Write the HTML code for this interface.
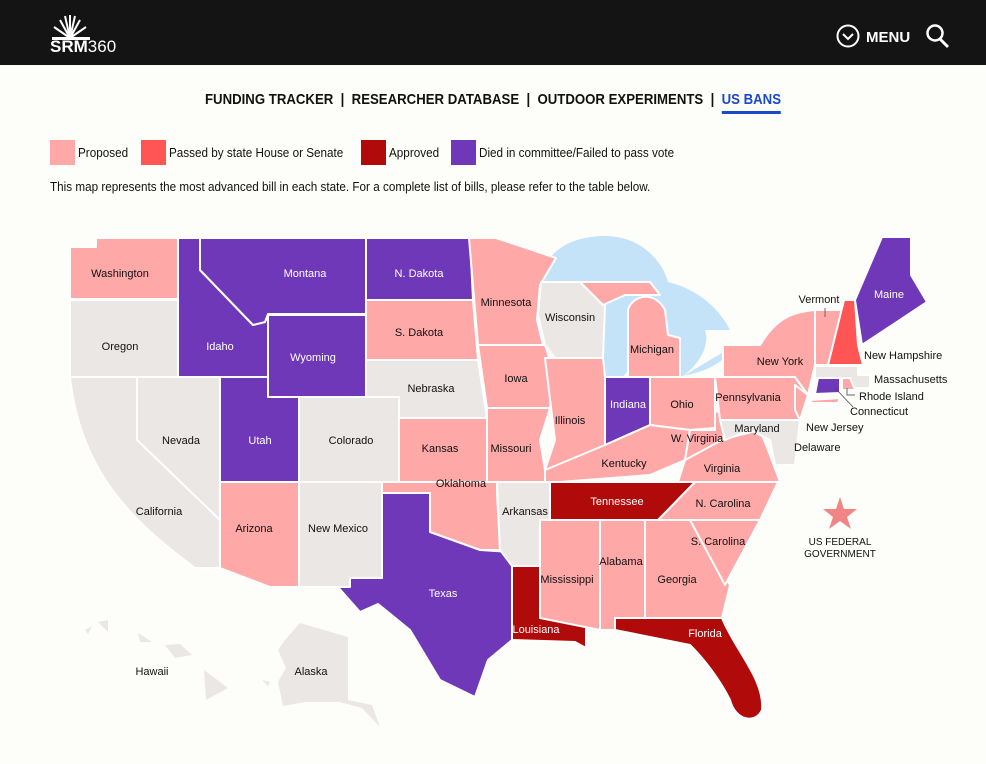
<!DOCTYPE html>
<html><head><meta charset="utf-8"><style>
body{margin:0;width:986px;height:764px;background:#fdfdfa;font-family:"Liberation Sans",sans-serif;overflow:hidden;position:relative}
.top{position:absolute;left:0;top:0;width:986px;height:65px;background:#141414}
.nav{position:absolute;top:91px;left:0;width:986px;text-align:center;font:bold 15px "Liberation Sans",sans-serif;transform:scaleX(0.88);color:#111}
.sw{position:absolute;width:25px;height:25px}
.lt{position:absolute;top:145px;font-size:13px;color:#111;transform-origin:left;transform:scaleX(0.9);white-space:nowrap}
svg text{font-family:"Liberation Sans",sans-serif;font-size:11px;fill:#111;text-anchor:middle}
</style></head><body>
<div class="top"></div>
<svg style="position:absolute;left:0;top:0" width="986" height="65">
<g stroke="#fff" stroke-width="2">
<line x1="70" y1="38" x2="60" y2="20"/><line x1="70" y1="38" x2="65" y2="16"/><line x1="70" y1="38" x2="70" y2="15"/><line x1="70" y1="38" x2="75" y2="16"/><line x1="70" y1="38" x2="80" y2="20"/><line x1="70" y1="38" x2="86" y2="27"/><line x1="70" y1="38" x2="54" y2="27"/></g>
<rect x="52" y="37" width="38" height="3" fill="#fff"/>
<text x="50" y="52" style="font:bold 17px 'Liberation Sans';fill:#fff;text-anchor:start">SRM<tspan font-weight="normal">360</tspan></text>
<circle cx="848" cy="36" r="10.5" fill="none" stroke="#fff" stroke-width="2"/><path d="M843 34l5 5 5-5" fill="none" stroke="#fff" stroke-width="2"/>
<text x="866" y="42" style="font:bold 15px 'Liberation Sans';fill:#fff;text-anchor:start">MENU</text>
<circle cx="935" cy="33" r="7.5" fill="none" stroke="#fff" stroke-width="2.5"/><line x1="940" y1="39" x2="948" y2="47" stroke="#fff" stroke-width="3"/>
</svg>
<div class="nav">FUNDING TRACKER &nbsp;|&nbsp; RESEARCHER DATABASE &nbsp;|&nbsp; OUTDOOR EXPERIMENTS &nbsp;|&nbsp; <span style="color:#1a49c9;border-bottom:3px solid #1a49c9;padding-bottom:3px">US BANS</span></div>
<div class="sw" style="left:50px;top:140px;background:#ffa8a8"></div><div class="lt" style="left:78px">Proposed</div>
<div class="sw" style="left:141px;top:140px;background:#ff5555"></div><div class="lt" style="left:169px">Passed by state House or Senate</div>
<div class="sw" style="left:361px;top:140px;background:#b00a0a"></div><div class="lt" style="left:389px">Approved</div>
<div class="sw" style="left:451px;top:140px;background:#6f38b8"></div><div class="lt" style="left:479px">Died in committee/Failed to pass vote</div>
<div class="lt" style="left:50px;top:179px">This map represents the most advanced bill in each state. For a complete list of bills, please refer to the table below.</div>
<svg style="position:absolute;left:0;top:0" width="986" height="764">
<g stroke="#fff" stroke-width="2" stroke-linejoin="round">
<path d="M541 282 C545 245 580 236 605 236 C640 236 662 260 668 282 C700 290 720 310 730 330 L705 330 C710 345 700 365 680 378 L735 345 C720 370 690 380 628 380 L628 370 C620 385 605 385 603 370 L603 300 C603 290 610 283 618 283 L541 282 Z" fill="#c5e3f8" stroke="none"/>
<polygon points="70,247 96,247 96,238 178,238 178,299 70,299" fill="#ffa8a8"/>
<polygon points="70,300 178,300 178,377 70,377" fill="#ebe7e5"/>
<polygon points="178,238 200,238 200,270 253,325 265,322 268,315 268,377 178,377" fill="#6f38b8"/>
<polygon points="200,238 366,238 366,314 268,314 265,322 253,325 200,270" fill="#6f38b8"/>
<polygon points="268,315 366,315 366,397 268,397" fill="#6f38b8"/>
<polygon points="366,238 470,238 473,300 366,300" fill="#6f38b8"/>
<polygon points="366,300 473,300 478,360 366,360" fill="#ffa8a8"/>
<polygon points="366,360 478,360 487,418 399,418 399,397 366,397" fill="#ebe7e5"/>
<polygon points="399,418 487,418 487,482 399,482" fill="#ffa8a8"/>
<polygon points="382,482 497,482 497,493 500,550 480,550 430,532 430,493 382,493" fill="#ffa8a8"/>
<polygon points="382,493 430,493 430,532 480,550 512,552 512,640 488,660 475,697 440,680 410,630 378,604 360,612 330,578 382,578" fill="#6f38b8"/>
<polygon points="299,482 382,482 382,578 350,578 350,587 299,587" fill="#ebe7e5"/>
<polygon points="299,397 399,397 399,482 299,482" fill="#ebe7e5"/>
<polygon points="220,377 268,377 268,397 299,397 299,482 220,482" fill="#6f38b8"/>
<polygon points="220,482 299,482 299,587 270,587 220,568" fill="#ffa8a8"/>
<polygon points="137,377 220,377 220,520 137,440" fill="#ebe7e5"/>
<path d="M70,377 L137,377 L137,440 L220,520 L220,568 L195,568 C130,520 80,470 70,377 Z" fill="#ebe7e5"/>
<polygon points="469,238 496,238 556,258 540,285 537,320 543,345 478,345" fill="#ffa8a8"/>
<polygon points="478,345 545,345 555,375 550,408 487,408" fill="#ffa8a8"/>
<polygon points="487,408 550,408 540,440 545,470 545,482 487,482" fill="#ffa8a8"/>
<polygon points="497,482 560,482 555,520 540,560 540,566 512,566 500,550" fill="#ebe7e5"/>
<polygon points="512,566 540,566 540,618 586,618 586,648 575,642 512,640" fill="#b00a0a"/>
<polygon points="541,282 580,282 605,305 603,358 555,358 545,345 538,315" fill="#ebe7e5"/>
<polygon points="580,282 650,282 660,295 625,295 603,305" fill="#ffa8a8"/>
<polygon points="545,358 603,358 605,377 605,445 585,460 545,470 555,440" fill="#ffa8a8"/>
<path d="M628,377 L628,310 C632,295 655,290 665,310 L668,335 L680,338 L680,377 Z" fill="#ffa8a8"/>
<polygon points="605,377 650,377 650,425 605,445" fill="#6f38b8"/>
<polygon points="650,377 715,377 715,428 690,430 650,425" fill="#ffa8a8"/>
<polygon points="545,470 605,445 650,425 690,430 685,460 650,475 560,482 545,482" fill="#ffa8a8"/>
<polygon points="685,460 720,440 760,430 770,455 780,482 678,482" fill="#ffa8a8"/>
<polygon points="695,482 778,482 760,520 658,520" fill="#ffa8a8"/>
<polygon points="550,482 695,482 658,520 550,520" fill="#b00a0a"/>
<polygon points="540,520 600,520 600,630 540,618" fill="#ffa8a8"/>
<polygon points="600,520 645,520 645,618 615,618 615,630 600,630" fill="#ffa8a8"/>
<polygon points="645,520 690,520 730,585 722,618 645,618" fill="#ffa8a8"/>
<path d="M615,618 L722,618 C735,650 765,680 762,710 C755,725 735,720 730,700 C720,680 705,660 690,645 L615,630 Z" fill="#b00a0a"/>
<polygon points="690,520 760,520 725,585" fill="#ffa8a8"/>
<polygon points="690,430 715,430 715,410 730,420 722,440 685,460" fill="#ffa8a8"/>
<polygon points="715,377 795,377 808,395 800,420 720,420" fill="#ffa8a8"/>
<path d="M723,377 L723,345 L760,345 C775,320 790,312 815,310 L815,365 L808,395 L795,377 Z" fill="#ffa8a8"/>
<polygon points="720,420 800,420 795,465 775,465 770,440 750,430 725,440" fill="#ebe7e5"/>
<polygon points="795,385 808,395 800,420 795,410" fill="#ffa8a8"/>
<polygon points="815,310 842,310 830,365 815,365" fill="#ffa8a8"/>
<polygon points="844,300 855,300 858,345 863,365 828,365" fill="#ff5555"/>
<polygon points="882,237 911,237 911,275 927,302 862,345 855,300" fill="#6f38b8"/>
<polygon points="815,366 858,366 858,375 870,375 870,388 845,388 840,378 815,378" fill="#ebe7e5"/>
<polygon points="818,378 840,378 840,393 815,394" fill="#6f38b8"/>
<polygon points="842,378 850,378 855,390 842,390" fill="#ffa8a8"/>
<polygon points="810,400 840,398 838,403 812,403" fill="#ffa8a8"/>
<polygon points="300,623 348,637 348,700 372,705 380,727 362,708 340,702 305,702 283,706 278,682 286,668 278,650 285,640" fill="#ebe7e5" stroke="none"/>
<polygon points="204,670 228,688 206,700" fill="#ebe7e5" stroke="none"/>
<polygon points="98,622 108,620 108,632" fill="#ebe7e5" stroke="none"/>
<polygon points="85,630 92,626 88,634" fill="#ebe7e5" stroke="none"/>
<polygon points="138,633 146,638 152,642 140,642" fill="#ebe7e5" stroke="none"/>
<polygon points="165,645 180,644 192,655 175,658" fill="#ebe7e5" stroke="none"/>
<polygon points="262,680 270,682 268,686" fill="#ebe7e5" stroke="none"/>
</g>
<polygon points="840,497 844,509 857,509 847,517 851,529 840,521 829,529 833,517 823,509 836,509" fill="#f08585"/>
<g>
<text x="120" y="277">Washington</text><text x="120" y="350">Oregon</text>
<text x="220" y="350" style="fill:#fff">Idaho</text><text x="305" y="277" style="fill:#fff">Montana</text>
<text x="313" y="361" style="fill:#fff">Wyoming</text><text x="419" y="277" style="fill:#fff">N. Dakota</text>
<text x="419" y="336">S. Dakota</text><text x="431" y="392">Nebraska</text><text x="506" y="306">Minnesota</text>
<text x="570" y="321">Wisconsin</text><text x="652" y="353">Michigan</text><text x="516" y="382">Iowa</text>
<text x="181" y="444">Nevada</text><text x="260" y="444" style="fill:#fff">Utah</text><text x="351" y="444">Colorado</text>
<text x="440" y="452">Kansas</text><text x="570" y="424">Illinois</text><text x="628" y="408" style="fill:#fff">Indiana</text>
<text x="682" y="408">Ohio</text><text x="511" y="452">Missouri</text><text x="697" y="442">W. Virginia</text>
<text x="757" y="432">Maryland</text><text x="780" y="365">New York</text><text x="748" y="401">Pennsylvania</text>
<text x="624" y="467">Kentucky</text><text x="722" y="472">Virginia</text><text x="159" y="515">California</text>
<text x="254" y="532">Arizona</text><text x="338" y="532">New Mexico</text><text x="461" y="487">Oklahoma</text>
<text x="525" y="515">Arkansas</text><text x="617" y="505" style="fill:#fff">Tennessee</text><text x="723" y="507">N. Carolina</text>
<text x="718" y="545">S. Carolina</text><text x="567" y="583">Mississippi</text><text x="621" y="565">Alabama</text>
<text x="677" y="583">Georgia</text><text x="443" y="597" style="fill:#fff">Texas</text><text x="536" y="633" style="fill:#fff">Louisiana</text>
<text x="705" y="637" style="fill:#fff">Florida</text><text x="152" y="675">Hawaii</text><text x="311" y="675">Alaska</text>
<text x="819" y="303">Vermont</text><text x="889" y="298" style="fill:#fff">Maine</text>
<text x="864" y="359" style="text-anchor:start">New Hampshire</text><text x="874" y="383" style="text-anchor:start">Massachusetts</text>
<text x="859" y="400" style="text-anchor:start">Rhode Island</text><text x="850" y="415" style="text-anchor:start">Connecticut</text>
<text x="806" y="431" style="text-anchor:start">New Jersey</text><text x="794" y="451" style="text-anchor:start">Delaware</text>
<text x="840" y="545" style="font-size:10px">US FEDERAL</text><text x="840" y="557" style="font-size:10px">GOVERNMENT</text>
</g>
<line x1="825" y1="308" x2="825" y2="317" stroke="#666"/><line x1="835" y1="388" x2="853" y2="407" stroke="#444" stroke-width="0.7"/>
<path d="M847 388v7h8" fill="none" stroke="#666"/>
</svg>
</body></html>
